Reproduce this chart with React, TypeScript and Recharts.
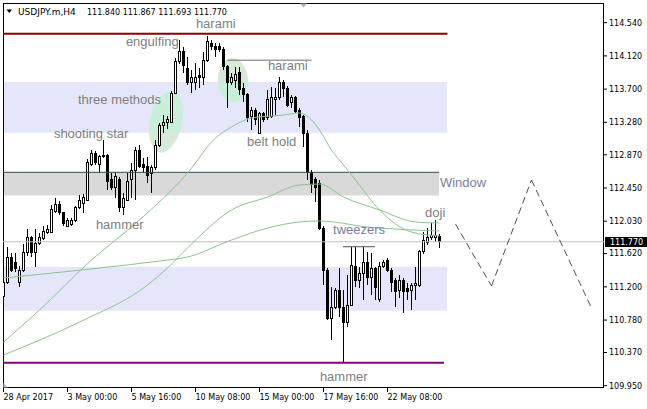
import React from 'react';
import { ComposedChart, Bar, Line, XAxis, YAxis, ReferenceArea, ReferenceLine, ReferenceDot } from 'recharts';

// USDJPY.m H4, bar by bar
const opens = [
  111.084, 111.249, 111.577, 111.514, 111.261, 111.413, 111.628, 111.818, 111.628, 111.754,
  111.805, 111.881, 111.893, 112.159, 112.235, 112.134, 111.969, 111.982, 112.033, 112.197,
  112.26, 112.298, 112.741, 112.892, 112.741, 112.842, 112.867, 112.551, 112.45, 112.551,
  112.209, 112.298, 112.551, 112.677, 112.93, 112.741, 112.728, 112.627, 112.703, 112.981,
  113.246, 113.272, 113.284, 113.651, 114.043, 114.182, 113.967, 113.79, 113.79, 113.866,
  113.841, 114.068, 114.283, 114.233, 114.245, 114.195, 113.98, 113.79, 113.815, 113.904,
  113.714, 113.626, 113.348, 113.436, 113.145, 113.398, 113.335, 113.348, 113.563, 113.588,
  113.79, 113.714, 113.525, 113.588, 113.436, 113.348, 113.145, 112.652, 112.551, 112.513,
  111.944, 111.413, 110.806, 110.945, 111.16, 110.945, 110.755, 110.97, 111.451, 111.286,
  111.375, 111.514, 111.324, 111.438, 111.034, 111.451, 111.539, 111.413, 111.286, 111.16,
  111.286, 111.185, 111.16, 111.211, 111.223, 111.641, 111.767, 111.818, 111.83, 111.84,
];
const highs = [
  111.375, 111.704, 111.628, 111.628, 111.463, 111.742, 111.931, 111.843, 111.931, 111.881,
  111.969, 111.982, 112.235, 112.323, 112.285, 112.146, 112.07, 112.07, 112.222, 112.361,
  112.374, 112.816, 112.93, 112.918, 112.867, 113.057, 112.88, 112.639, 112.639, 112.589,
  112.386, 112.639, 112.766, 112.968, 112.993, 112.829, 112.842, 112.741, 113.057, 113.272,
  113.373, 113.36, 113.676, 114.094, 114.321, 114.233, 114.106, 113.942, 114.03, 113.967,
  114.17, 114.372, 114.321, 114.283, 114.283, 114.233, 114.005, 113.904, 113.98, 113.98,
  113.778, 113.651, 113.474, 113.461, 113.411, 113.411, 113.689, 113.727, 113.714, 113.853,
  113.815, 113.74, 113.626, 113.613, 113.461, 113.373, 113.183, 112.677, 112.589, 112.551,
  111.969, 111.438, 111.198, 111.185, 111.438, 111.16, 111.35, 111.704, 111.704, 111.451,
  111.704, 111.641, 111.628, 111.451, 111.514, 111.539, 111.565, 111.438, 111.312, 111.35,
  111.312, 111.249, 111.249, 111.451, 111.666, 111.893, 111.944, 112.007, 112.045, 111.867,
];
const lows = [
  111.059, 111.236, 111.388, 111.388, 111.198, 111.388, 111.59, 111.577, 111.451, 111.729,
  111.792, 111.868, 111.881, 112.134, 112.108, 111.969, 111.957, 111.969, 112.02, 112.184,
  112.134, 112.285, 112.728, 112.741, 112.652, 112.829, 112.424, 112.424, 112.323, 112.146,
  112.108, 112.285, 112.323, 112.298, 112.703, 112.639, 112.513, 112.386, 112.677, 112.968,
  113.145, 113.196, 113.272, 113.638, 114.018, 113.904, 113.752, 113.651, 113.689, 113.714,
  113.752, 114.043, 114.195, 114.106, 114.17, 113.942, 113.461, 113.752, 113.714, 113.626,
  113.537, 113.284, 113.183, 113.246, 113.133, 113.284, 113.31, 113.335, 113.373, 113.563,
  113.6, 113.474, 113.461, 113.398, 113.221, 112.968, 112.551, 112.386, 112.273, 111.919,
  111.223, 110.781, 110.528, 110.92, 110.819, 110.249, 110.692, 110.958, 111.198, 111.185,
  111.034, 111.223, 111.097, 111.034, 111.008, 111.438, 111.388, 111.135, 110.945, 111.059,
  110.869, 111.034, 110.907, 111.034, 111.198, 111.615, 111.729, 111.792, 111.767, 111.693,
];
const closes = [
  111.249, 111.577, 111.413, 111.426, 111.413, 111.628, 111.818, 111.628, 111.754, 111.83,
  111.906, 111.919, 112.172, 112.235, 112.134, 112.007, 112.033, 112.045, 112.197, 112.298,
  112.336, 112.766, 112.892, 112.766, 112.842, 112.867, 112.538, 112.462, 112.589, 112.209,
  112.323, 112.526, 112.677, 112.93, 112.728, 112.703, 112.614, 112.703, 112.981, 113.246,
  113.284, 113.31, 113.651, 114.043, 114.17, 114.005, 113.79, 113.841, 113.853, 113.841,
  114.068, 114.296, 114.233, 114.207, 114.195, 113.98, 113.79, 113.853, 113.879, 113.689,
  113.626, 113.335, 113.436, 113.31, 113.398, 113.31, 113.563, 113.588, 113.6, 113.79,
  113.714, 113.499, 113.588, 113.411, 113.335, 113.145, 112.652, 112.488, 112.462, 111.944,
  111.413, 110.806, 110.945, 111.16, 110.945, 110.755, 110.97, 111.476, 111.286, 111.375,
  111.514, 111.324, 111.438, 111.198, 111.451, 111.514, 111.413, 111.261, 111.135, 111.286,
  111.135, 111.147, 111.223, 111.236, 111.641, 111.792, 111.818, 111.855, 111.843, 111.77,
];

// moving averages, read at a handful of bars
const fastBars = [0, 9, 22, 34, 46, 53, 57, 62, 70, 74, 77, 79, 82, 85, 88, 94, 102, 109];
const fastVals = [110.502, 110.907, 111.539, 112.045, 112.639, 113.082, 113.221, 113.335, 113.373, 113.398, 113.31, 113.183, 112.93, 112.741, 112.551, 112.172, 111.893, 111.843];
const midBars = [0, 19, 36, 41, 46, 57, 66, 74, 79, 85, 94, 103, 109];
const midVals = [110.338, 110.755, 111.223, 111.438, 111.691, 112.172, 112.336, 112.488, 112.5, 112.336, 112.172, 112.02, 112.007];
const slowBars = [0, 24, 39, 46, 57, 66, 74, 79, 91, 109];
const slowVals = [111.312, 111.438, 111.527, 111.577, 111.792, 111.944, 112.02, 112.033, 111.957, 111.906];

// projected zigzag to the right of the last bar, one leg per series
const legA = { bars: [113, 122], vals: [111.994, 111.211] };
const legB = { bars: [122, 132], vals: [111.211, 112.551] };
const legC = { bars: [132, 147], vals: [112.551, 110.932] };

const xTicks = [0, 16, 32, 48, 64, 80, 96];
const xLabels = ['28 Apr 2017', '3 May 00:00', '5 May 16:00', '10 May 08:00', '15 May 00:00', '17 May 16:00', '22 May 08:00'];
const yTicks = [114.54, 114.12, 113.7, 113.28, 112.87, 112.45, 112.03, 111.62, 111.2, 110.78, 110.37, 109.95];

// drawn objects
const levelHigh = 114.4;
const levelLow = 110.241;
const haramiLine = 114.066;
const tweezersLine = 111.707;
const zoneUpper = [113.149, 113.79];
const zoneLower = [110.898, 111.455];
const windowZone = [112.355, 112.648];

const blobX1 = [36.6, 53.6];
const blobX2 = [44.6, 61.1];
const blobLo = [112.892, 113.537];
const blobHi = [113.676, 114.094];
const blobTilt = [12, -3];

const noteText = ['harami', 'engulfing', 'harami', 'three methods', 'shooting star', 'belt hold', 'hammer', 'Window', 'doji', 'tweezers', 'hammer'];
const noteBar = [48.1, 30.6, 66.1, 18.6, 12.6, 60.9, 23.1, 109.1, 105.4, 82.4, 79.1];
const notePrice = [114.479, 114.245, 113.942, 113.506, 113.082, 112.981, 111.931, 112.462, 112.083, 111.874, 110.009];

const X_MIN = -0.125;
const X_MAX = 150.125;
const Y_MIN = 109.921;
const Y_MAX = 114.789;
const last = closes.length - 1;

const rows: any[] = Array.from({ length: 148 }, (_, i) => ({
  i,
  open: opens[i] ?? null,
  high: highs[i] ?? null,
  low: lows[i] ?? null,
  close: closes[i] ?? null,
}));
fastBars.forEach((b, k) => (rows[b].fast = fastVals[k]));
midBars.forEach((b, k) => (rows[b].mid = midVals[k]));
slowBars.forEach((b, k) => (rows[b].slow = slowVals[k]));
legA.bars.forEach((b, k) => (rows[b].legA = legA.vals[k]));
legB.bars.forEach((b, k) => (rows[b].legB = legB.vals[k]));
legC.bars.forEach((b, k) => (rows[b].legC = legC.vals[k]));

const axisFont = 'DejaVu Sans, Verdana, sans-serif';
const noteFont = 'Liberation Sans, Arial, sans-serif';

const Candle = (props: any) => {
  const { x, y, width, height, payload } = props;
  if (!payload || payload.high == null) return null;
  const cx = Math.round(x + width / 2 - 0.5) + 0.5;
  const span = payload.high - payload.low || 1;
  const py = (v: number) => y + ((payload.high - v) / span) * height;
  const up = payload.close >= payload.open;
  const top = py(Math.max(payload.open, payload.close));
  const bot = py(Math.min(payload.open, payload.close));
  return (
    <g shapeRendering="crispEdges">
      <line x1={cx} x2={cx} y1={y} y2={y + height} stroke="#000" strokeWidth={1} />
      {up ? (
        <rect x={cx - 1} y={top} width={2} height={Math.max(bot - top, 1)} fill="#fff" stroke="#000" strokeWidth={1} />
      ) : (
        <rect x={cx - 1.5} y={top - 0.5} width={3} height={Math.max(bot - top, 0) + 1} fill="#000" />
      )}
    </g>
  );
};

const makeBlob = (k: number) => (p: any) => {
  const { x, y, width, height } = p;
  const cx = x + width / 2;
  const cy = y + height / 2;
  const toPx = (v: number) => y + ((blobHi[k] - v) / (blobHi[k] - blobLo[k])) * height;
  const bandTop = toPx(zoneUpper[1]);
  const bandBot = toPx(zoneUpper[0]);
  const id = `blobclip${k}`;
  const shape = (fill: string) => (
    <ellipse cx={cx} cy={cy} rx={width / 2} ry={height / 2} fill={fill} transform={`rotate(${blobTilt[k]} ${cx} ${cy})`} />
  );
  return (
    <g>
      <defs>
        <clipPath id={id}>
          <rect x={x - 20} y={bandTop} width={width + 40} height={bandBot - bandTop} />
        </clipPath>
      </defs>
      {shape('#d8e9d9')}
      <g clipPath={`url(#${id})`}>{shape('#c9efdb')}</g>
    </g>
  );
};

const XTick = (props: any) => {
  const { x, y, payload } = props;
  const idx = xTicks.indexOf(payload.value);
  return (
    <text x={x} y={y} dy="0.71em" textAnchor="start" fontSize={8} fontFamily={axisFont} fill="#000">
      {xLabels[idx]}
    </text>
  );
};

const PriceTag = (props: any) => {
  const vb = props.viewBox || {};
  const xr = (vb.x ?? 3) + (vb.width ?? 601);
  const yy = vb.y ?? 242;
  return (
    <g shapeRendering="crispEdges">
      <rect x={xr + 1} y={yy - 5} width={43} height={10} fill="#000" />
      <text x={xr + 6} y={yy} dy="0.36em" fontSize={8} fontFamily={axisFont} fill="#fff" shapeRendering="auto">
        {closes[last].toFixed(3)}
      </text>
    </g>
  );
};

export default function App() {
  const head = [opens[last], highs[last], lows[last], closes[last]].map((v) => v.toFixed(3)).join(' ');
  const projLine = (key: string) => (
    <Line
      key={key}
      dataKey={key}
      type="linear"
      stroke="#505050"
      strokeWidth={1}
      strokeDasharray="7 4"
      dot={false}
      connectNulls
      isAnimationActive={false}
    />
  );
  return (
    <div style={{ position: 'absolute', left: 0, top: 0, width: 647, height: 409, background: '#fff' }}>
      <ComposedChart width={647} height={409} data={rows} margin={{ top: 3, right: 0, bottom: 0, left: 3 }}>
        <XAxis
          dataKey="i"
          type="number"
          domain={[X_MIN, X_MAX]}
          allowDataOverflow
          ticks={xTicks}
          interval={0}
          tick={<XTick />}
          tickSize={4}
          tickMargin={2}
          axisLine={false}
          tickLine={{ stroke: '#000' }}
          height={21}
        />
        <YAxis
          orientation="right"
          type="number"
          domain={[Y_MIN, Y_MAX]}
          allowDataOverflow
          ticks={yTicks}
          interval={0}
          width={43}
          tickSize={3}
          tickMargin={2}
          axisLine={false}
          tickLine={{ stroke: '#000' }}
          tick={{ fontSize: 8, fill: '#000', fontFamily: axisFont }}
          tickFormatter={(v: number) => v.toFixed(3)}
        />

        <ReferenceArea x1={X_MIN} x2={110.9} y1={zoneUpper[0]} y2={zoneUpper[1]} fill="#e6e6fa" fillOpacity={1} stroke="none" />
        <ReferenceArea x1={X_MIN} x2={110.9} y1={zoneLower[0]} y2={zoneLower[1]} fill="#e6e6fa" fillOpacity={1} stroke="none" />
        <ReferenceArea x1={X_MIN} x2={108.9} y1={windowZone[0]} y2={windowZone[1]} fill="#d9d9d9" fillOpacity={1} stroke="none" />
        {blobX1.map((_, k) => (
          <ReferenceArea key={k} x1={blobX1[k]} x2={blobX2[k]} y1={blobLo[k]} y2={blobHi[k]} shape={makeBlob(k)} />
        ))}
        <ReferenceArea
          x1={X_MIN}
          x2={X_MAX}
          y1={Y_MIN}
          y2={Y_MAX}
          shape={(p: any) => (
            <rect x={p.x + 0.5} y={p.y + 0.5} width={p.width - 1} height={p.height - 1} fill="none" stroke="#000" strokeWidth={1} />
          )}
        />

        <ReferenceLine y={closes[last]} stroke="#c0c0c0" strokeWidth={1} label={PriceTag} />
        <ReferenceLine segment={[{ x: X_MIN, y: windowZone[1] }, { x: 108.9, y: windowZone[1] }]} stroke="#2f4f4f" strokeWidth={1} />
        <ReferenceLine segment={[{ x: X_MIN, y: levelHigh }, { x: 111, y: levelHigh }]} stroke="#8b0000" strokeWidth={2} />
        <ReferenceLine segment={[{ x: X_MIN, y: levelLow }, { x: 110.1, y: levelLow }]} stroke="#800080" strokeWidth={2} />
        <ReferenceLine segment={[{ x: 56, y: haramiLine }, { x: 77, y: haramiLine }]} stroke="#707070" strokeWidth={1} />
        <ReferenceLine segment={[{ x: 84.9, y: tweezersLine }, { x: 92.9, y: tweezersLine }]} stroke="#505050" strokeWidth={1} />

        <Bar
          dataKey={(d: any) => (d.high == null ? null : [d.low, d.high])}
          barSize={3}
          shape={<Candle />}
          isAnimationActive={false}
        />

        <Line dataKey="slow" type="monotone" stroke="#8cc48c" strokeWidth={1} dot={false} connectNulls isAnimationActive={false} />
        <Line dataKey="mid" type="monotone" stroke="#8cc48c" strokeWidth={1} dot={false} connectNulls isAnimationActive={false} />
        <Line dataKey="fast" type="monotone" stroke="#8cc48c" strokeWidth={1} dot={false} connectNulls isAnimationActive={false} />
        {projLine('legA')}
        {projLine('legB')}
        {projLine('legC')}

        {noteText.map((t, k) => (
          <ReferenceDot
            key={k}
            x={noteBar[k]}
            y={notePrice[k]}
            r={0}
            shape={(p: any) => (
              <text
                x={p.cx}
                y={p.cy}
                fontSize={13}
                fontFamily={noteFont}
                fill={t === 'Window' || t === 'tweezers' ? '#7c7c9c' : '#808080'}
              >
                {t}
              </text>
            )}
          />
        ))}
      </ComposedChart>

      <svg width={647} height={409} style={{ position: 'absolute', left: 0, top: 0, pointerEvents: 'none' }}>
        <path d="M6.5 9.5 L12 9.5 L9.25 13 Z" fill="#000" />
        <text x={18} y={14.5} fontSize={9} fontFamily={axisFont} fill="#000">USDJPY.m,H4</text>
        <text x={87} y={14.5} fontSize={8} fontFamily={axisFont} fill="#000">{head}</text>
        <path d="M300 3.5 L307 3.5 L303.5 7.5 Z" fill="#b0b0b0" />
        <path d="M3.5 383 L3.5 387.5 L8 387.5 Z" fill="#c0c0c0" />
      </svg>
    </div>
  );
}
